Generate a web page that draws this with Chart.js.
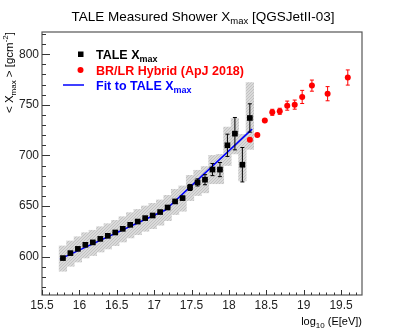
<!DOCTYPE html>
<html>
<head>
<meta charset="utf-8">
<script src="https://cdn.jsdelivr.net/npm/chart.js@4.4.1/dist/chart.umd.min.js"></script>
<style>
  html, body { margin: 0; padding: 0; background: #fff; }
  #wrap { width: 402px; height: 332px; }
</style>
</head>
<body>
<div id="wrap"><canvas id="xmaxChart" width="402" height="332"></canvas></div>
<script>
// TALE Xmax points (log10 E, <Xmax>, stat error, systematic down/up)
const taleLogE = [15.78, 15.88, 15.98, 16.08, 16.18, 16.28, 16.38, 16.48, 16.58, 16.68, 16.78, 16.88, 16.98,
                  17.08, 17.18, 17.28, 17.38, 17.48, 17.58, 17.68, 17.78, 17.88, 17.98, 18.08, 18.18, 18.28];
const taleXmax = [598.5, 603.4, 607.6, 611.6, 614, 617.5, 620.5, 623.8, 627.4, 631.4, 634.6, 638, 640.6,
                  644, 648.5, 654.5, 657.8, 668.3, 673.3, 676, 686, 686, 710, 721.5, 690.8, 737];
const taleStat = [1, 1, 1, 1, 1, 1, 1, 1, 1, 1, 1, 1.5, 1.5,
                  1.5, 2, 2, 2.5, 3, 3.5, 5, 6, 7, 11, 16, 17, 14];
const taleSysDn = [13, 13, 13, 13, 13, 13, 13, 13, 13, 13, 13, 13, 13,
                   13, 13, 13, 13, 13, 13, 13, 14, 14, 20, 20, 16, 31];
const taleSysUp = [12, 12, 12, 12, 12, 12, 12, 12, 12, 12, 12, 12, 12,
                   12, 12, 12, 12, 12, 12, 13, 14, 15, 18, 15, 30, 35];

// BR/LR hybrid points
const hybLogE = [18.28, 18.38, 18.48, 18.58, 18.68, 18.78, 18.88, 18.98, 19.11, 19.32, 19.59];
const hybXmax = [715.5, 720.2, 734.4, 742.6, 743.6, 749.2, 750.2, 757.8, 769, 761, 777];
const hybErr = [2, 2, 2.5, 3, 3, 4.5, 4.5, 6.5, 5.5, 7, 7.5];

// broken-line fit to TALE
const fitLogE = [15.74, 17.15, 18.31];
const fitXmax = [597.5, 646, 726];

const xTickValues = [15.5, 16, 16.5, 17, 17.5, 18, 18.5, 19, 19.5];
const xTickLabels = ['15.5', '16', '16.5', '17', '17.5', '18', '18.5', '19', '19.5'];
const yTickValues = [600, 650, 700, 750, 800];
const yTickLabels = ['600', '650', '700', '750', '800'];

const FONT = '"Liberation Sans", Arial, Helvetica, sans-serif';

// speckled light gray like the ROOT fill
function stipple() {
  const c = document.createElement('canvas');
  c.width = 3; c.height = 3;
  const g = c.getContext('2d');
  g.fillStyle = '#dadada'; g.fillRect(0, 0, 3, 3);
  g.fillStyle = '#c2c2c2'; g.fillRect(0, 0, 1, 1); g.fillRect(2, 1, 1, 1); g.fillRect(1, 2, 1, 1);
  return g.createPattern(c, 'repeat');
}

function drawRich(ctx, parts, x, y, align) {
  // parts: [text, size, weight, shiftY]
  let w = 0;
  parts.forEach(p => {
    ctx.font = (p[2] || 'normal') + ' ' + p[1] + 'px ' + FONT;
    w += ctx.measureText(p[0]).width;
  });
  let cx = align === 'center' ? x - w / 2 : (align === 'right' ? x - w : x);
  ctx.textAlign = 'left';
  ctx.textBaseline = 'alphabetic';
  parts.forEach(p => {
    ctx.font = (p[2] || 'normal') + ' ' + p[1] + 'px ' + FONT;
    ctx.fillText(p[0], cx, y + (p[3] || 0));
    cx += ctx.measureText(p[0]).width;
  });
}

function errBars(ctx, xs, ys, xsc, ysc, lo, hi, xerr, color) {
  ctx.strokeStyle = color;
  ctx.lineWidth = 1;
  for (let i = 0; i < xs.length; i++) {
    const px = xsc.getPixelForValue(xs[i]);
    const y1 = ysc.getPixelForValue(ys[i] - lo[i]);
    const y2 = ysc.getPixelForValue(ys[i] + hi[i]);
    const py = ysc.getPixelForValue(ys[i]);
    ctx.beginPath();
    ctx.moveTo(px, y1); ctx.lineTo(px, y2);
    if (y1 - y2 > 6) {
      ctx.moveTo(px - 2, y1); ctx.lineTo(px + 2, y1);
      ctx.moveTo(px - 2, y2); ctx.lineTo(px + 2, y2);
    }
    if (xerr) {
      const xa = xsc.getPixelForValue(xs[i] - xerr);
      const xb = xsc.getPixelForValue(xs[i] + xerr);
      ctx.moveTo(xa, py); ctx.lineTo(xb, py);
    }
    ctx.stroke();
  }
}

const rootDecor = {
  id: 'rootDecor',
  afterDatasetsDraw(chart) {
    const ctx = chart.ctx;
    const xs = chart.scales.x, ys = chart.scales.y;
    const a = chart.chartArea;
    ctx.save();

    errBars(ctx, taleLogE, taleXmax, xs, ys, taleStat, taleStat, 0.035, '#000');
    errBars(ctx, hybLogE, hybXmax, xs, ys, hybErr, hybErr, 0, '#ff0000');

    // frame
    ctx.strokeStyle = '#555';
    ctx.lineWidth = 1.2;
    ctx.strokeRect(a.left, a.top, a.right - a.left, a.bottom - a.top);

    // ticks (inward)
    ctx.strokeStyle = '#333';
    ctx.lineWidth = 1;
    ctx.beginPath();
    for (let v = 570; v <= 820; v += 10) {
      const py = Math.round(ys.getPixelForValue(v)) + 0.5;
      const len = (v % 50 === 0) ? 8 : 4;
      ctx.moveTo(a.left, py); ctx.lineTo(a.left + len, py);
    }
    for (let k = 0; k <= 42; k++) {
      const v = 15.5 + k * 0.1;
      const px = Math.round(xs.getPixelForValue(v)) + 0.5;
      const len = (k % 5 === 0) ? 5 : 2.5;
      ctx.moveTo(px, a.bottom); ctx.lineTo(px, a.bottom - len);
    }
    ctx.stroke();

    // title
    ctx.fillStyle = '#000';
    drawRich(ctx, [['TALE Measured Shower X', 13.5], ['max', 9.5, 'normal', 3], [' [QGSJetII-03]', 13.5]], 203, 21, 'center');

    // x axis title
    drawRich(ctx, [['log', 11], ['10', 8, 'normal', 3], [' (E[eV])', 11]], 362, 325, 'right');

    // y axis title (rotated)
    ctx.save();
    ctx.translate(13, 32);
    ctx.rotate(-Math.PI / 2);
    drawRich(ctx, [['< X', 11.5], ['max', 8, 'normal', 3], [' > [gcm', 11.5], ['-2', 8, 'normal', -5], [']', 11.5]], 0, 0, 'right');
    ctx.restore();

    // legend
    ctx.fillStyle = '#000';
    ctx.fillRect(78, 51.5, 5.5, 5.5);
    drawRich(ctx, [['TALE X', 12.5, 'bold'], ['max', 9, 'bold', 3]], 96, 59, 'left');
    ctx.fillStyle = '#ff0000';
    ctx.beginPath(); ctx.arc(80.5, 70, 3, 0, Math.PI * 2); ctx.fill();
    drawRich(ctx, [['BR/LR Hybrid (ApJ 2018)', 12.5, 'bold']], 96, 74.5, 'left');
    ctx.strokeStyle = '#0000ff';
    ctx.lineWidth = 1.5;
    ctx.beginPath(); ctx.moveTo(63, 85); ctx.lineTo(84, 85); ctx.stroke();
    ctx.fillStyle = '#0000ff';
    drawRich(ctx, [['Fit to TALE X', 12.5, 'bold'], ['max', 9, 'bold', 3]], 96, 90, 'left');

    ctx.restore();
  }
};

new Chart(document.getElementById('xmaxChart'), {
  type: 'scatter',
  data: {
    datasets: [
      {
        type: 'bar',
        label: 'sys',
        data: taleLogE.map((e, i) => ({ x: e, y: [taleXmax[i] - taleSysDn[i], taleXmax[i] + taleSysUp[i]] })),
        backgroundColor: stipple(),
        borderWidth: 0,
        barThickness: 7.6,
        grouped: false,
        order: 4
      },
      {
        type: 'line',
        label: 'Fit to TALE Xmax',
        data: fitLogE.map((e, i) => ({ x: e, y: fitXmax[i] })),
        borderColor: '#0000ff',
        borderWidth: 1.5,
        pointRadius: 0,
        fill: false,
        order: 3
      },
      {
        label: 'TALE Xmax',
        data: taleLogE.map((e, i) => ({ x: e, y: taleXmax[i] })),
        pointStyle: 'rect',
        pointRadius: 4,
        backgroundColor: '#000',
        borderColor: '#000',
        borderWidth: 0,
        order: 2
      },
      {
        label: 'BR/LR Hybrid (ApJ 2018)',
        data: hybLogE.map((e, i) => ({ x: e, y: hybXmax[i] })),
        pointStyle: 'circle',
        pointRadius: 3,
        backgroundColor: '#ff0000',
        borderColor: '#ff0000',
        borderWidth: 0,
        order: 1
      }
    ]
  },
  options: {
    responsive: false,
    animation: false,
    events: [],
    layout: { padding: { left: 0, right: 40, top: 32, bottom: 0 } },
    plugins: { legend: { display: false }, tooltip: { enabled: false }, title: { display: false } },
    scales: {
      x: {
        type: 'linear',
        min: 15.5,
        max: 19.78,
        offset: false,
        grid: { display: false, drawTicks: false },
        border: { display: false },
        afterFit: s => { s.height = 37; },
        afterBuildTicks: s => { s.ticks = xTickValues.map(v => ({ value: v })); },
        ticks: {
          autoSkip: false,
          maxRotation: 0,
          padding: 3,
          color: '#222',
          font: { family: FONT, size: 12 },
          callback: (v) => xTickLabels[xTickValues.indexOf(v)]
        }
      },
      y: {
        type: 'linear',
        min: 562,
        max: 822,
        grid: { display: false, drawTicks: false },
        border: { display: false },
        afterFit: s => { s.width = 42; },
        afterBuildTicks: s => { s.ticks = yTickValues.map(v => ({ value: v })); },
        ticks: {
          padding: 3,
          color: '#222',
          font: { family: FONT, size: 12 },
          callback: (v) => yTickLabels[yTickValues.indexOf(v)]
        }
      }
    }
  },
  plugins: [rootDecor]
});
</script>
</body>
</html>
